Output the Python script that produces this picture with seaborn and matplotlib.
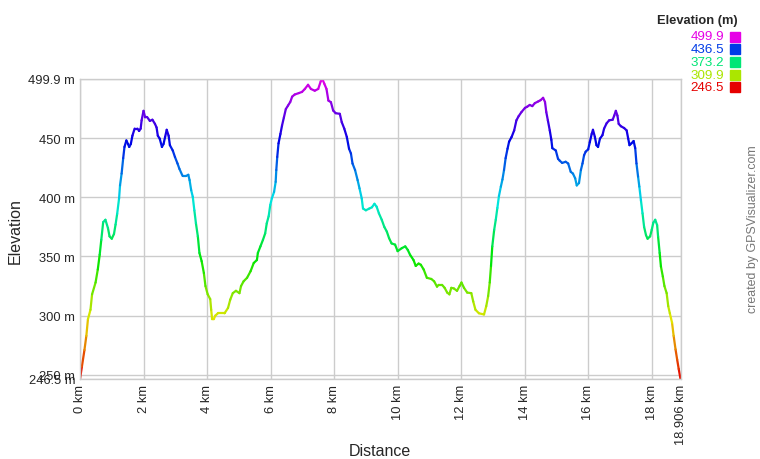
import numpy as np
import pandas as pd
import seaborn as sns
import matplotlib.pyplot as plt
from matplotlib.colors import ListedColormap, Normalize, hsv_to_rgb
from matplotlib.patches import Rectangle

# profile (km, m)
distance_km = [
    0.00, 0.06, 0.14, 0.20, 0.25, 0.33, 0.38, 0.49, 0.56, 0.62, 0.67, 0.73, 0.80, 0.88, 0.93,
    1.00, 1.07, 1.12, 1.17, 1.23, 1.26, 1.31, 1.36, 1.40, 1.46, 1.51, 1.55, 1.60, 1.65, 1.72,
    1.81, 1.86, 1.91, 1.94, 2.00, 2.05, 2.12, 2.20, 2.28, 2.36, 2.41, 2.45, 2.51, 2.58, 2.63,
    2.68, 2.73, 2.79, 2.83, 2.92, 2.99, 3.07, 3.13, 3.23, 3.34, 3.41, 3.45, 3.50, 3.55, 3.60,
    3.65, 3.71, 3.76, 3.83, 3.90, 3.95, 4.02, 4.10, 4.13, 4.16, 4.21, 4.26, 4.34, 4.55, 4.66,
    4.73, 4.81, 4.91, 5.02, 5.07, 5.15, 5.26, 5.37, 5.47, 5.57, 5.60, 5.68, 5.76, 5.83, 5.88,
    5.94, 5.99, 6.04, 6.11, 6.16, 6.18, 6.21, 6.25, 6.31, 6.36, 6.42, 6.48, 6.55, 6.62, 6.68,
    6.76, 6.89, 6.99, 7.08, 7.18, 7.27, 7.39, 7.50, 7.58, 7.63, 7.69, 7.76, 7.82, 7.90, 7.97,
    8.05, 8.18, 8.24, 8.32, 8.40, 8.47, 8.53, 8.58, 8.66, 8.74, 8.80, 8.87, 8.91, 9.00, 9.11,
    9.19, 9.27, 9.34, 9.41, 9.50, 9.58, 9.66, 9.73, 9.81, 9.92, 10.00, 10.13, 10.24, 10.32, 10.39,
    10.50, 10.57, 10.66, 10.73, 10.82, 10.92, 11.06, 11.15, 11.24, 11.29, 11.40, 11.48, 11.56, 11.63, 11.69,
    11.77, 11.87, 11.95, 12.01, 12.09, 12.19, 12.32, 12.38, 12.45, 12.56, 12.72, 12.79, 12.85, 12.90, 12.94,
    12.98, 13.04, 13.09, 13.14, 13.19, 13.25, 13.30, 13.35, 13.40, 13.46, 13.51, 13.59, 13.67, 13.74, 13.81,
    13.90, 14.01, 14.08, 14.16, 14.24, 14.32, 14.43, 14.50, 14.58, 14.64, 14.68, 14.73, 14.79, 14.84, 14.87,
    14.98, 15.05, 15.10, 15.18, 15.29, 15.37, 15.45, 15.52, 15.59, 15.64, 15.71, 15.77, 15.82, 15.87, 15.92,
    16.00, 16.05, 16.11, 16.15, 16.21, 16.26, 16.31, 16.37, 16.45, 16.50, 16.58, 16.66, 16.77, 16.82, 16.87,
    16.92, 16.96, 17.03, 17.13, 17.21, 17.26, 17.30, 17.36, 17.43, 17.48, 17.52, 17.57, 17.61, 17.66, 17.71,
    17.76, 17.82, 17.87, 17.95, 18.00, 18.05, 18.11, 18.17, 18.20, 18.25, 18.29, 18.35, 18.40, 18.47, 18.52,
    18.57, 18.64, 18.69, 18.75, 18.80, 18.85, 18.906,
]
elevation_m = [
    246.5, 257, 271, 283, 297, 305, 318, 328, 339, 351.5, 364, 379, 381, 374, 367,
    365, 369, 377, 386, 399, 410, 420, 433, 442.5, 448, 445, 442.5, 445, 452, 458,
    458, 456, 458, 465, 473, 467.5, 467.5, 464.5, 465.5, 462, 459, 452, 449.5, 442.5, 445,
    451, 457, 452, 444, 439.5, 434, 428.5, 424, 418, 418, 419, 414.5, 406, 400.5, 389,
    378, 367, 353, 346, 336, 325, 318, 314, 305, 297, 297, 300, 302, 302, 306.5,
    313.5, 319, 321, 319, 325, 329, 332, 337.5, 344.5, 347, 353, 358.5, 364, 369.5, 378,
    384, 393.5, 399, 404.5, 413, 423, 434, 445.5, 453.5, 460.5, 467.5, 474.5, 477.5, 480.5, 485,
    486.8, 488, 489, 491.5, 495, 491.5, 490, 491.5, 498, 499.9, 496, 491.5, 481.7, 480.3, 473.3,
    471, 470.5, 463.5, 458, 451, 441, 437, 428.5, 423, 414.5, 407.5, 399, 390.5, 389, 390.5,
    391.5, 394.5, 392, 386.5, 381, 375, 371, 365.5, 361, 360, 354.5, 357, 358.5, 355.5, 351.5,
    347, 342, 344, 343, 339, 332, 331, 329, 324.5, 326, 326, 323.5, 319.5, 318, 323.5,
    323, 321, 325, 328, 323.5, 319.5, 319, 312, 305, 302, 301, 308, 316.5, 328, 342,
    358.5, 372.5, 381, 391, 401, 409, 415, 423, 433, 441, 447, 451, 456.5, 465, 468.5,
    472, 475.5, 476.5, 478, 477, 479.5, 481, 482, 484, 480.5, 472, 465, 456.5, 448.5, 441.5,
    439.5, 432.5, 431, 429, 430, 428.5, 421.5, 420, 416, 410, 412, 423, 428.5, 435.5, 438.5,
    440.5, 446.5, 453.5, 457, 451, 444, 442.5, 449.5, 452.5, 458, 462.5, 465, 465.5, 469, 473,
    469, 462, 460, 458.5, 456.5, 449.5, 444, 445.5, 447.5, 441.5, 428.5, 417.5, 409, 397.5, 386.5,
    375, 368, 365, 367, 372.5, 378.5, 381, 376.5, 367, 353, 341.5, 333, 325, 319, 308,
    302, 294, 283, 271.5, 263, 255, 246.5,
]

x_ticks = [0, 2, 4, 6, 8, 10, 12, 14, 16, 18, 18.906]
x_tick_labels = ["0 km", "2 km", "4 km", "6 km", "8 km", "10 km", "12 km",
                 "14 km", "16 km", "18 km", "18.906 km"]
y_ticks = [246.5, 250, 300, 350, 400, 450, 499.9]
y_tick_labels = ["246.5 m", "250 m", "300 m", "350 m", "400 m", "450 m", "499.9 m"]
legend_values = [499.9, 436.5, 373.2, 309.9, 246.5]

sns.set_theme(style="white")
plt.rcParams["font.family"] = ["Liberation Sans", "DejaVu Sans"]

# rainbow: red at the lowest point, magenta at the highest
hues = np.linspace(0, 300 / 360, 256)
cmap = ListedColormap(hsv_to_rgb(np.column_stack([hues, np.ones(256), np.full(256, 0.9)])))
norm = Normalize(min(elevation_m), max(elevation_m))

# one little line per step so the colour can follow the elevation
rows = []
for i in range(len(distance_km) - 1):
    mid = (elevation_m[i] + elevation_m[i + 1]) / 2
    for j in (i, i + 1):
        rows.append({"seg": i, "km": distance_km[j], "elev": elevation_m[j], "c": mid})
df = pd.DataFrame(rows)

fig = plt.figure(figsize=(7.6, 4.6), dpi=100)
ax = fig.add_axes([80 / 760, 1 - 380 / 460, 600.5 / 760, 300 / 460])

sns.lineplot(data=df, x="km", y="elev", hue="c", units="seg", estimator=None, sort=False,
             palette=cmap, hue_norm=norm, linewidth=1.6, legend=False, ax=ax)

ax.set_xlim(0, 18.906)
ax.set_ylim(246.5, 499.9)
ax.set_xticks(x_ticks)
ax.set_xticklabels(x_tick_labels, rotation=90, fontsize=9.3)
ax.set_yticks(y_ticks)
ax.set_yticklabels(y_tick_labels, fontsize=9.3)
ax.tick_params(length=2, color="#cccccc", pad=1.5)
ax.grid(True, color="#cccccc", linewidth=1)
for s in ax.spines.values():
    s.set_color("#cccccc")
    s.set_linewidth(1)
ax.set_xlabel("")
ax.set_ylabel("")

fig.text(380 / 760, 1 - 452 / 460, "Distance", ha="center", va="center", fontsize=11.5)
fig.text(15 / 760, 1 - 231 / 460, "Elevation", ha="center", va="center",
         rotation=90, fontsize=11.5)
fig.text(753 / 760, 1 - 229 / 460, "created by GPSVisualizer.com", ha="center", va="center",
         rotation=90, fontsize=8.9, color="#777777")

# legend block, top right
fig.text(738 / 760, 1 - 21 / 460, "Elevation (m)", ha="right", va="center",
         fontsize=9.3, fontweight="bold")
for k, v in enumerate(legend_values):
    yc = 37.5 + k * 12.7
    col = cmap(norm(v))
    fig.text(724 / 760, 1 - yc / 460, f"{v:.1f}", ha="right", va="center",
             fontsize=9.6, color=col)
    fig.add_artist(Rectangle((730 / 760, 1 - (yc + 5) / 460), 10 / 760, 10 / 460,
                             transform=fig.transFigure, color=col))

fig.savefig("out.png", dpi=100)
